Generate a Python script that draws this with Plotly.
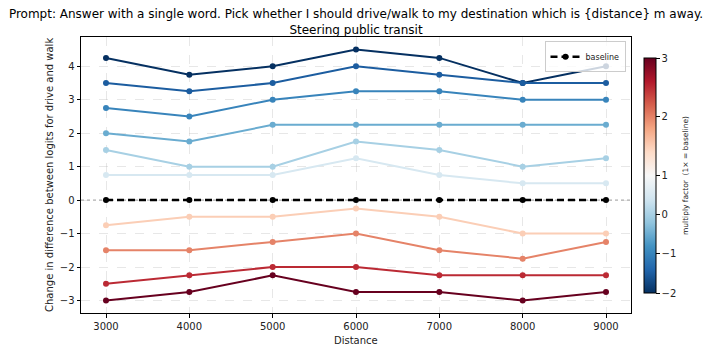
import plotly.graph_objects as go
from plotly.colors import sample_colorscale

distances = [3000, 4000, 5000, 6000, 7000, 8000, 9000]
multipliers = [-2, -1.5, -1, -0.5, 0, 0.5, 1.5, 2, 2.5, 3]
series = [
    [4.25, 3.75, 4.0, 4.5, 4.25, 3.5, 4.0],
    [3.5, 3.25, 3.5, 4.0, 3.75, 3.5, 3.5],
    [2.75, 2.5, 3.0, 3.25, 3.25, 3.0, 3.0],
    [2.0, 1.75, 2.25, 2.25, 2.25, 2.25, 2.25],
    [1.5, 1.0, 1.0, 1.75, 1.5, 1.0, 1.25],
    [0.75, 0.75, 0.75, 1.25, 0.75, 0.5, 0.5],
    [-0.75, -0.5, -0.5, -0.25, -0.5, -1.0, -1.0],
    [-1.5, -1.5, -1.25, -1.0, -1.5, -1.75, -1.25],
    [-2.5, -2.25, -2.0, -2.0, -2.25, -2.25, -2.25],
    [-3.0, -2.75, -2.25, -2.75, -2.75, -3.0, -2.75],
]
baseline = [0, 0, 0, 0, 0, 0, 0]
baseline_level = 0
cbar_ticks = [-2, -1, 0, 1, 2, 3]
vmin, vcenter, vmax = -2, 1, 3

def norm(v):
    if v <= vcenter:
        return 0.5 * (v - vmin) / (vcenter - vmin)
    return 0.5 + 0.5 * (v - vcenter) / (vmax - vcenter)

FONT = "DejaVu Sans"
W, H = 712, 352
ML, MR, MT, MB = 81, 81, 37, 39
PW, PH = W - ML - MR, H - MT - MB

def px_x(x):
    return (x - ML) / PW

def px_y(y):
    return (H - MB - y) / PH

fig = go.Figure()

for m, ys in zip(multipliers, series):
    col = sample_colorscale("RdBu_r", [norm(m)])[0]
    fig.add_trace(go.Scatter(
        x=distances, y=ys, mode="lines+markers",
        line=dict(color=col, width=2),
        marker=dict(color=col, size=6),
        showlegend=False, hoverinfo="skip"))

fig.add_trace(go.Scatter(
    x=distances, y=baseline, mode="lines+markers", name="baseline",
    line=dict(color="black", width=2.5, dash="7px,4px"),
    marker=dict(color="black", size=6), showlegend=True))

# colorbar carrier
fig.add_trace(go.Scatter(
    x=[None], y=[None], mode="markers", showlegend=False,
    marker=dict(
        color=[0], cmin=0, cmax=1, colorscale="RdBu_r", showscale=True,
        colorbar=dict(
            x=px_x(644), xanchor="left", xpad=0,
            y=px_y(293), yanchor="bottom", ypad=0,
            lenmode="fraction", len=235 / PH, thicknessmode="pixels", thickness=12,
            outlinecolor="black", outlinewidth=1,
            tickvals=[norm(t) for t in cbar_ticks],
            ticktext=[str(t).replace("-", "\u2212") for t in cbar_ticks],
            ticks="outside", ticklen=3.5, tickcolor="black",
            tickfont=dict(family=FONT, size=10, color="#222"),
        ))))

fig.add_annotation(
    text="multiply factor  (1\u00d7 = baseline)", textangle=-90,
    xref="paper", x=px_x(685), xanchor="center",
    yref="paper", y=px_y(176), yanchor="middle",
    showarrow=False, font=dict(family=FONT, size=7.5, color="#222"))

fig.add_annotation(
    text="Distance", xref="paper", x=0.5, xanchor="center",
    yref="paper", y=px_y(340), yanchor="middle",
    showarrow=False, font=dict(family=FONT, size=10, color="#222"))

fig.add_annotation(
    text="Change in difference between logits for drive and walk", textangle=-90,
    xref="paper", x=px_x(49), xanchor="center",
    yref="paper", y=0.5, yanchor="middle",
    showarrow=False, font=dict(family=FONT, size=10, color="#222"))

fig.add_shape(type="line", xref="paper", x0=0, x1=1, yref="y",
              y0=baseline_level, y1=baseline_level,
              line=dict(color="gray", width=0.8, dash="dot"), layer="below")

axis_common = dict(
    showline=True, mirror=True, linecolor="black", linewidth=1,
    ticks="outside", ticklen=3.5, tickcolor="black",
    showgrid=True, gridcolor="rgba(176,176,176,0.3)", griddash="dash", gridwidth=0.8,
    zeroline=False, automargin=False,
    tickfont=dict(family=FONT, size=10, color="#222"),
)

fig.update_layout(
    width=W, height=H,
    margin=dict(l=ML, r=MR, t=MT, b=MB, autoexpand=False),
    paper_bgcolor="white", plot_bgcolor="white",
    font=dict(family=FONT, color="#222"),
    title=dict(
        text="Prompt: Answer with a single word. Pick whether I should drive/walk to my destination which is {distance} m away.<br>Steering public transit",
        x=0.5, xanchor="center", xref="container", y=0.949, yanchor="top",
        font=dict(family=FONT, size=12, color="black")),
    xaxis=dict(axis_common, range=[2700, 9300], tickvals=distances, tickformat="d"),
    yaxis=dict(axis_common, range=[-3.375, 4.875], dtick=1),
    legend=dict(x=0.99, y=0.985, xanchor="right", yanchor="top",
                bordercolor="#cccccc", borderwidth=1, bgcolor="rgba(255,255,255,0.8)",
                font=dict(family=FONT, size=8, color="#222"), itemwidth=30,
                tracegroupgap=0),
)

fig.write_html("out.html")
